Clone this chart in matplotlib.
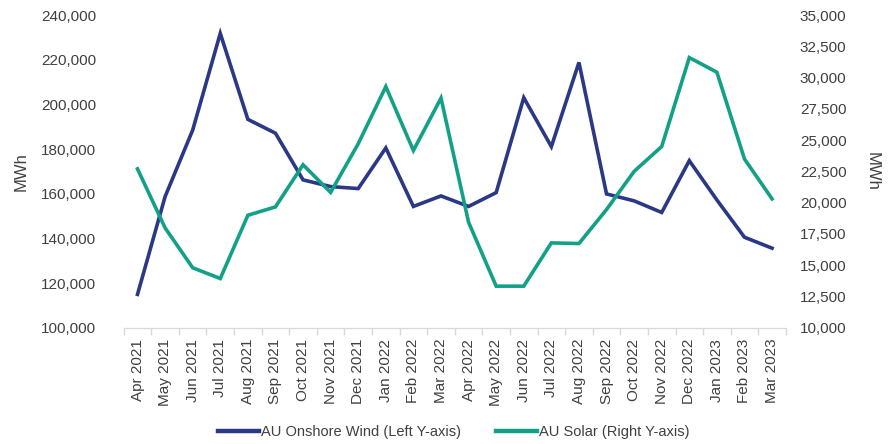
import numpy as np
import matplotlib.pyplot as plt
from matplotlib.ticker import FuncFormatter, FixedLocator

# monthly generation, Apr 2021 - Mar 2023
months = ['Apr 2021', 'May 2021', 'Jun 2021', 'Jul 2021', 'Aug 2021', 'Sep 2021',
          'Oct 2021', 'Nov 2021', 'Dec 2021', 'Jan 2022', 'Feb 2022', 'Mar 2022',
          'Apr 2022', 'May 2022', 'Jun 2022', 'Jul 2022', 'Aug 2022', 'Sep 2022',
          'Oct 2022', 'Nov 2022', 'Dec 2022', 'Jan 2023', 'Feb 2023', 'Mar 2023']

wind = [114900, 158700, 188500, 231800, 193300, 187100,
        166200, 163200, 162300, 180500, 154300, 159000,
        154300, 160500, 203000, 181100, 218800, 159900,
        156800, 151600, 174800, 157200, 140500, 135600]

solar = [22700, 17980, 14790, 13930, 18990, 19660,
         23030, 20820, 24710, 29280, 24170, 28360,
         18430, 13320, 13320, 16780, 16730, 19450,
         22500, 24490, 31600, 30430, 23490, 20300]

wind_color = '#2B3886'
solar_color = '#12A187'
text_color = '#404040'

plt.rcParams['font.family'] = ['Liberation Sans', 'DejaVu Sans']

fig = plt.figure(figsize=(8.9, 4.44), dpi=100)
ax1 = fig.add_axes([0.139, 0.262, 0.744, 0.704])
ax2 = ax1.twinx()

x = np.arange(len(months))
l1, = ax1.plot(x, wind, color=wind_color, linewidth=2.6, solid_joinstyle='miter')
l2, = ax2.plot(x, solar, color=solar_color, linewidth=2.6, solid_joinstyle='miter')

ax1.set_xlim(-0.5, len(months) - 0.5)
ax1.set_ylim(100000, 240000)
ax2.set_ylim(10000, 35000)
ax1.set_yticks(np.arange(100000, 240001, 20000))
ax2.set_yticks(np.arange(10000, 35001, 2500))

fmt = FuncFormatter(lambda v, p: f'{int(v):,}')
ax1.yaxis.set_major_formatter(fmt)
ax2.yaxis.set_major_formatter(fmt)

# category labels centred, tick marks between categories
ax1.set_xticks(x)
ax1.set_xticklabels(months, rotation=90, fontsize=11, color=text_color)
ax1.tick_params(axis='x', which='major', length=0, pad=8)
ax1.xaxis.set_minor_locator(FixedLocator(np.arange(-0.5, len(months), 1)))
ax1.tick_params(axis='x', which='minor', length=5, color='#d9d9d9', width=1)

ax1.tick_params(axis='y', length=0, labelsize=11, labelcolor=text_color, pad=20)
ax2.tick_params(axis='y', length=0, labelsize=11, labelcolor=text_color, pad=10)

for a in (ax1, ax2):
    for s in ['top', 'left', 'right']:
        a.spines[s].set_visible(False)
    a.spines['bottom'].set_color('#d9d9d9')

ax1.set_ylabel('MWh', fontsize=12, color=text_color, labelpad=9)
ax2.set_ylabel('MWh', fontsize=12, color=text_color, rotation=270, labelpad=24)

fig.legend([l1, l2], ['AU Onshore Wind (Left Y-axis)', 'AU Solar (Right Y-axis)'],
           loc='center', bbox_to_anchor=(0.51, 0.027), ncol=2, frameon=False,
           handlelength=2.8, handletextpad=0.15, columnspacing=2.4,
           prop={'family': ['Liberation Sans'], 'size': 10.5},
           labelcolor=text_color)
for h in fig.legends[0].get_lines():
    h.set_linewidth(3.2)

fig.savefig('out.png', dpi=100)
